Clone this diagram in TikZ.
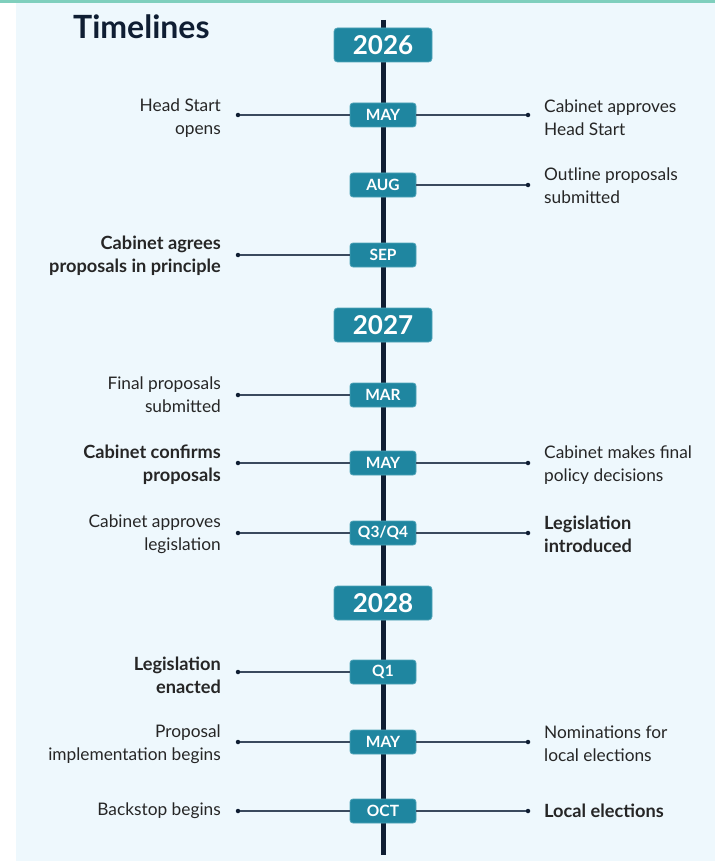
\documentclass[tikz,border=0pt]{standalone}
\usepackage{fontspec}
\setmainfont{Lato}
\definecolor{bgc}{HTML}{EEF8FD}
\definecolor{band}{HTML}{7FCFBD}
\definecolor{tealbox}{HTML}{1F86A0}
\definecolor{tealedge}{HTML}{4FA3B8}
\definecolor{navy}{HTML}{0F1E33}
\definecolor{connc}{HTML}{3A4A5E}
\definecolor{txt}{HTML}{262626}
\begin{document}
\begin{tikzpicture}[x=1pt,y=-1pt,
  yearbox/.style={fill=tealbox, draw=tealedge, line width=0.8pt, rounded corners=3.5pt, minimum width=98pt, minimum height=34pt, inner sep=0pt, text=white, font=\fontsize{26}{26}\selectfont\bfseries},
  monthbox/.style={fill=tealbox, draw=tealedge, line width=0.8pt, rounded corners=3pt, minimum width=66pt, minimum height=24pt, inner sep=0pt, text=white, font=\fontsize{15.5}{15.5}\selectfont\bfseries},
  ltext/.style={anchor=east, align=right, inner sep=0pt, text=txt, font=\fontsize{17.3}{23}\selectfont},
  rtext/.style={anchor=west, align=left, inner sep=0pt, text=txt, font=\fontsize{17.3}{23}\selectfont},
  boldt/.style={font=\fontsize{18.2}{23}\selectfont\bfseries},
  dotn/.style={circle, fill=navy, inner sep=0pt, minimum size=4.5pt},
  conn/.style={draw=connc, line width=1.5pt},
  spine/.style={draw=navy, line width=5pt}]
\useasboundingbox (0,0) rectangle (715,861);
\fill[white] (0,0) rectangle (715,861);
\fill[bgc] (16,3) rectangle (715,861);
\fill[band] (0,0) rectangle (715,3.5);
\node[anchor=west, inner sep=0pt, text=navy, font=\fontsize{32}{32}\selectfont\bfseries] (title) at (73,27) {Timelines};
% spine
\coordinate (stop) at (383,20);
\coordinate (sbot) at (383,855);
\draw[spine] (stop) -- (sbot);
% years
\node[yearbox] (y26) at (383,45) {2026};
\node[yearbox] (y27) at (383,325) {2027};
\node[yearbox] (y28) at (383,603) {2028};
% months
\node[monthbox] (m1) at (383,115) {MAY};
\node[monthbox] (m2) at (383,185) {AUG};
\node[monthbox] (m3) at (383,255) {SEP};
\node[monthbox] (m4) at (383,395) {MAR};
\node[monthbox] (m5) at (383,463) {MAY};
\node[monthbox] (m6) at (383,533) {Q3/Q4};
\node[monthbox] (m7) at (383,672) {Q1};
\node[monthbox] (m8) at (383,742) {MAY};
\node[monthbox] (m9) at (383,811) {OCT};
% dots
\node[dotn] (l1) at (238,115) {};
\node[dotn] (r1) at (528,115) {};
\node[dotn] (r2) at (528,185) {};
\node[dotn] (l3) at (238,255) {};
\node[dotn] (l4) at (238,395) {};
\node[dotn] (l5) at (238,463) {};
\node[dotn] (r5) at (528,463) {};
\node[dotn] (l6) at (238,533) {};
\node[dotn] (r6) at (528,533) {};
\node[dotn] (l7) at (238,672) {};
\node[dotn] (l8) at (238,742) {};
\node[dotn] (r8) at (528,742) {};
\node[dotn] (l9) at (238,811) {};
\node[dotn] (r9) at (528,811) {};
% connectors
\draw[conn] (l1) -- (m1);
\draw[conn] (m1) -- (r1);
\draw[conn] (m2) -- (r2);
\draw[conn] (l3) -- (m3);
\draw[conn] (l4) -- (m4);
\draw[conn] (l5) -- (m5);
\draw[conn] (m5) -- (r5);
\draw[conn] (l6) -- (m6);
\draw[conn] (m6) -- (r6);
\draw[conn] (l7) -- (m7);
\draw[conn] (l8) -- (m8);
\draw[conn] (m8) -- (r8);
\draw[conn] (l9) -- (m9);
\draw[conn] (m9) -- (r9);
% texts
\node[ltext] (t1l) at (221,118) {Head Start\\opens};
\node[rtext] (t1r) at (544,118) {Cabinet approves\\Head Start};
\node[rtext] (t2r) at (544,186) {Outline proposals\\submitted};
\node[ltext, boldt] (t3l) at (221,256) {Cabinet agrees\\proposals in principle};
\node[ltext] (t4l) at (221,395) {Final proposals\\submitted};
\node[ltext, boldt] (t5l) at (221,465) {Cabinet confirms\\proposals};
\node[rtext] (t5r) at (544,465) {Cabinet makes final\\policy decisions};
\node[ltext] (t6l) at (221,534) {Cabinet approves\\legislation};
\node[rtext, boldt] (t6r) at (544,534) {Legislation\\introduced};
\node[ltext, boldt] (t7l) at (221,675) {Legislation\\enacted};
\node[ltext] (t8l) at (221,744) {Proposal\\implementation begins};
\node[rtext] (t8r) at (544,744) {Nominations for\\local elections};
\node[ltext] (t9l) at (221,811) {Backstop begins};
\node[rtext, boldt] (t9r) at (544,811) {Local elections};
\end{tikzpicture}
\end{document}
